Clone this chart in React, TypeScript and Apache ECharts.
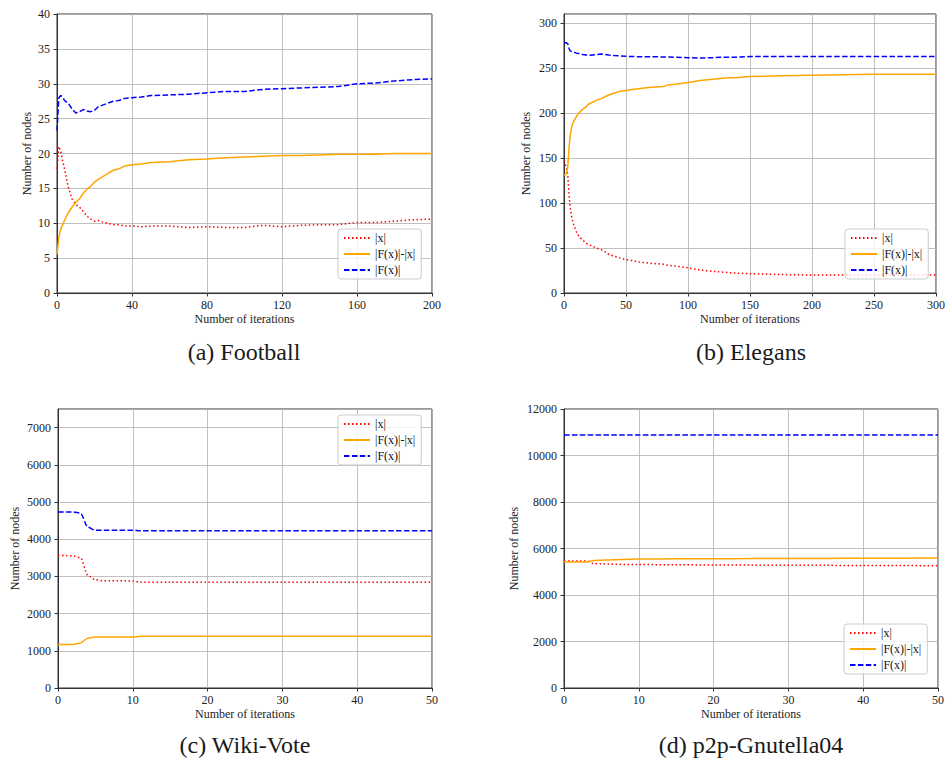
import React, { useEffect, useRef } from "react";
import * as echarts from "echarts";

// ---------- data ----------
const seriesNames = ["|x|", "|F(x)|-|x|", "|F(x)|"];
const captions = ["(a) Football", "(b) Elegans", "(c) Wiki-Vote", "(d) p2p-Gnutella04"];

const footballIter = [0, 1, 2, 3, 4, 6, 8, 10, 12, 14, 16, 18, 20, 22, 24, 27, 30, 33, 36, 40, 45, 50, 60, 70, 80, 90, 100, 110, 120, 130, 140, 150, 160, 170, 180, 190, 200];
const footballX = [17.8, 21, 20.3, 19, 17.8, 15.2, 13.5, 12.7, 12.3, 11.7, 11, 10.6, 10.3, 10.4, 10.2, 10, 9.8, 9.8, 9.6, 9.6, 9.5, 9.6, 9.6, 9.4, 9.5, 9.4, 9.4, 9.7, 9.5, 9.7, 9.8, 9.8, 10.1, 10.1, 10.3, 10.5, 10.6];
const footballDiff = [5.5, 8, 9.2, 9.8, 10.4, 11.5, 12.3, 13, 13.5, 14.3, 14.9, 15.3, 15.9, 16.3, 16.6, 17.1, 17.6, 17.8, 18.2, 18.4, 18.5, 18.7, 18.8, 19.1, 19.2, 19.4, 19.5, 19.6, 19.7, 19.7, 19.8, 19.9, 19.9, 19.9, 20, 20, 20];
const footballF = [23.3, 28, 28.3, 28.1, 27.6, 27.2, 26.4, 25.8, 26, 26.3, 26.1, 26, 26.2, 26.7, 26.9, 27.2, 27.5, 27.6, 27.9, 28, 28.1, 28.3, 28.4, 28.5, 28.7, 28.9, 28.9, 29.2, 29.3, 29.4, 29.5, 29.6, 30, 30.1, 30.4, 30.6, 30.7];

const elegansIter = [0, 1, 2, 3, 4, 5, 6, 7, 8, 10, 12, 15, 18, 20, 23, 26, 30, 33, 36, 40, 45, 50, 55, 60, 70, 80, 85, 90, 100, 110, 120, 130, 140, 150, 175, 200, 250, 300];
const elegansX = [147, 143, 140, 132, 110, 95, 86, 80, 75, 68, 63, 59, 55, 54, 52, 50, 48, 46, 43, 41, 39, 37, 36, 34.5, 33, 32, 30.5, 30, 28, 25.5, 24, 23, 22, 21.5, 20.5, 20, 20, 20];
const elegansDiff = [131, 131, 133, 140, 160, 175, 183, 188, 191, 196, 200, 204, 207, 210, 212, 214, 216, 218, 220, 222, 224, 225, 226, 227, 228.5, 229.5, 231.5, 232, 234, 236, 237.5, 239, 239.5, 240.5, 241.5, 242, 243, 243];
const elegansF = [278, 278, 278, 277, 272, 269, 268.5, 268, 267.5, 266.5, 266, 265, 264.5, 264, 264.5, 265, 265.5, 265, 264.5, 264, 263.5, 263, 262.8, 262.5, 262.5, 262.3, 262.2, 262, 261.5, 261, 261.5, 262, 262, 262.7, 262.7, 262.7, 262.7, 262.7];

const wikiIter = [0, 1, 2, 3, 4, 5, 6, 7, 8, 9, 10, 11, 15, 20, 25, 30, 35, 40, 45, 50];
const wikiX = [3560, 3560, 3550, 3500, 3030, 2910, 2880, 2880, 2880, 2880, 2875, 2845, 2845, 2845, 2845, 2845, 2845, 2845, 2845, 2845];
const wikiDiff = [1170, 1170, 1170, 1210, 1340, 1370, 1370, 1370, 1370, 1370, 1370, 1390, 1390, 1390, 1390, 1390, 1390, 1390, 1390, 1390];
const wikiF = [4730, 4730, 4730, 4700, 4320, 4240, 4240, 4240, 4240, 4240, 4240, 4225, 4225, 4225, 4225, 4225, 4225, 4225, 4225, 4225];

const gnutellaIter = [0, 1, 2, 3, 4, 5, 6, 7, 8, 9, 10, 15, 20, 25, 30, 35, 40, 45, 50];
const gnutellaX = [5460, 5460, 5460, 5460, 5350, 5340, 5330, 5320, 5315, 5310, 5310, 5300, 5290, 5285, 5280, 5275, 5270, 5265, 5260];
const gnutellaDiff = [5420, 5420, 5420, 5420, 5480, 5500, 5510, 5520, 5530, 5540, 5550, 5555, 5560, 5565, 5570, 5575, 5580, 5585, 5590];
const gnutellaF = [10880, 10880, 10880, 10880, 10880, 10880, 10880, 10880, 10880, 10880, 10880, 10880, 10880, 10880, 10880, 10880, 10880, 10880, 10880];

const xMax = [200, 300, 50, 50];
const xInterval = [40, 50, 10, 10];
const yMax = [40, 310, 7500, 12000];
const yInterval = [5, 50, 1000, 2000];

// ---------- layout / style ----------
const FONT = "'Times New Roman', 'Liberation Serif', serif";
const grids = [
  { left: 57, top: 14, width: 375, height: 279 },
  { left: 564, top: 14, width: 375, height: 279 },
  { left: 58, top: 409, width: 374, height: 279 },
  { left: 564, top: 409, width: 374, height: 279 },
];
const yNameGap = [24, 32, 37, 44];
const legendPos = [
  { left: 338, top: 229 },
  { left: 845, top: 229 },
  { left: 338, top: 415 },
  { left: 844, top: 624 },
];
const captionPos = [
  { left: 244, top: 340 },
  { left: 751, top: 340 },
  { left: 245, top: 733 },
  { left: 751, top: 733 },
];
const colors = ["#ff0000", "#ffa500", "#0000ff"];
const dashes: any[] = [[1.5, 2.5], "solid", [5.5, 2.4]];

const datasets = [
  { iter: footballIter, vals: [footballX, footballDiff, footballF] },
  { iter: elegansIter, vals: [elegansX, elegansDiff, elegansF] },
  { iter: wikiIter, vals: [wikiX, wikiDiff, wikiF] },
  { iter: gnutellaIter, vals: [gnutellaX, gnutellaDiff, gnutellaF] },
];

export default function App() {
  const ref = useRef<HTMLDivElement>(null);
  useEffect(() => {
    if (!ref.current) return;
    const chart = echarts.init(ref.current, undefined, { renderer: "svg" });
    const axisLabelStyle = { color: "#222", fontFamily: FONT, fontSize: 12 };
    const option: any = {
      animation: false,
      backgroundColor: "#fff",
      textStyle: { fontFamily: FONT },
      title: captions.map((c, i) => ({
        text: c,
        left: captionPos[i].left,
        top: captionPos[i].top,
        textAlign: "center",
        padding: 0,
        textStyle: { fontFamily: FONT, fontSize: 24, fontWeight: "normal", color: "#1a1a1a" },
      })),
      grid: grids.map((g) => ({ ...g, show: true, borderColor: "#333", borderWidth: 1, backgroundColor: "transparent", containLabel: false })),
      xAxis: grids.map((_, i) => ({
        type: "value",
        gridIndex: i,
        min: 0,
        max: xMax[i],
        interval: xInterval[i],
        name: "Number of iterations",
        nameLocation: "middle",
        nameGap: 20,
        nameTextStyle: { fontFamily: FONT, fontSize: 12, color: "#222" },
        axisLine: { show: true, onZero: false, lineStyle: { color: "#333", width: 1 } },
        axisTick: { show: true, length: 3.5, lineStyle: { color: "#333" } },
        axisLabel: { ...axisLabelStyle, margin: 6, formatter: (v: number) => String(v) },
        splitLine: { show: true, lineStyle: { color: "#b0b0b0", width: 0.8 } },
      })),
      yAxis: grids.map((_, i) => ({
        type: "value",
        gridIndex: i,
        min: 0,
        max: yMax[i],
        interval: yInterval[i],
        name: "Number of nodes",
        nameLocation: "middle",
        nameGap: yNameGap[i],
        nameRotate: 90,
        nameTextStyle: { fontFamily: FONT, fontSize: 12, color: "#222" },
        axisLine: { show: true, onZero: false, lineStyle: { color: "#333", width: 1 } },
        axisTick: { show: true, length: 3.5, lineStyle: { color: "#333" } },
        axisLabel: { ...axisLabelStyle, margin: 7, showMaxLabel: yMax[i] % yInterval[i] === 0, formatter: (v: number) => String(v) },
        splitLine: { show: true, lineStyle: { color: "#b0b0b0", width: 0.8 } },
      })),
      legend: grids.map((_, i) => ({
        data: seriesNames,
        orient: "vertical",
        left: legendPos[i].left,
        top: legendPos[i].top,
        itemWidth: 26,
        itemHeight: 14,
        itemGap: 4,
        padding: [3, 6, 3, 5],
        backgroundColor: "rgba(255,255,255,0.8)",
        borderColor: "#cccccc",
        borderWidth: 1,
        borderRadius: 3,
        selectedMode: false,
        itemStyle: { opacity: 0 },
        textStyle: { fontFamily: FONT, fontSize: 12, color: "#111" },
      })),
      series: datasets.flatMap((d, i) =>
        d.vals.map((v, k) => ({
          type: "line",
          name: seriesNames[k],
          xAxisIndex: i,
          yAxisIndex: i,
          data: d.iter.map((x, j) => [x, v[j]]),
          showSymbol: false,
          symbol: "none",
          smooth: i >= 2 ? 0.3 : false,
          smoothMonotone: "x",
          color: colors[k],
          lineStyle: { color: colors[k], width: 1.5, type: dashes[k] },
          z: 2 + k,
        }))
      ),
    };
    chart.setOption(option);
    return () => chart.dispose();
  }, []);
  return <div ref={ref} style={{ position: "absolute", left: 0, top: 0, width: 948, height: 760 }} />;
}
